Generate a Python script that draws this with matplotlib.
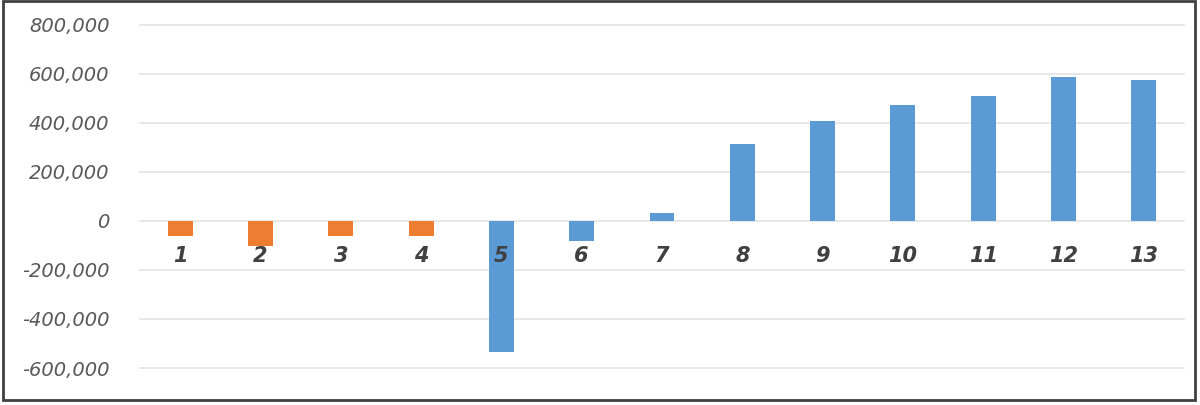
import numpy as np
import matplotlib.pyplot as plt
from matplotlib.patches import Rectangle
from matplotlib.ticker import FuncFormatter
from matplotlib.transforms import offset_copy

# ===================== Datos =====================
periods = ['1', '2', '3', '4', '5', '6', '7', '8', '9', '10', '11', '12', '13']
values = [-60000, -103000, -62000, -62000, -536000, -82000, 34000,
          314000, 408000, 473000, 508000, 588000, 573000]
bar_colors = ['#ED7D31'] * 4 + ['#5B9BD5'] * 9
y_ticks = [-600000, -400000, -200000, 0, 200000, 400000, 600000, 800000]

# ===================== Figura =====================
fig = plt.figure(figsize=(12, 4.05), dpi=100)
ax = fig.add_axes([140 / 1200, 1 - 368 / 405, 1044 / 1200, (368 - 24.7) / 405])

x = np.arange(len(periods))
ax.bar(x, values, width=0.31, color=bar_colors, zorder=3)

ax.set_ylim(-600000, 800000)
ax.set_xlim(-0.5, len(periods) - 0.5)
ax.set_yticks(y_ticks)
ax.yaxis.set_major_formatter(FuncFormatter(lambda v, p: f"{int(v):,}"))
ax.set_axisbelow(True)
ax.grid(axis='y', color='#E4E4E4', linewidth=1.2)
for gl in ax.get_ygridlines():
    gl.set_clip_on(False)

for s in ax.spines.values():
    s.set_visible(False)

# etiquetas del eje x junto a la línea cero, por encima de las barras
ax.set_xticks([])
lbl_tr = offset_copy(ax.transData, fig=fig, y=-35, units='dots')
for xi, lab in zip(x, periods):
    ax.text(xi, 0, lab, transform=lbl_tr, ha='center', va='center',
            fontsize=15, fontstyle='italic', fontweight='semibold',
            color='#404040', zorder=5)

ax.tick_params(axis='y', length=0, pad=22, labelsize=14, labelcolor='#595959')
for lbl in ax.get_yticklabels():
    lbl.set_fontstyle('italic')

# marco exterior
fig.patches.append(Rectangle((3 / 1200, 5 / 405), 1192 / 1200, 399 / 405,
                             transform=fig.transFigure, fill=False,
                             edgecolor='#404040', linewidth=2))

fig.savefig('out.png', dpi=100)
